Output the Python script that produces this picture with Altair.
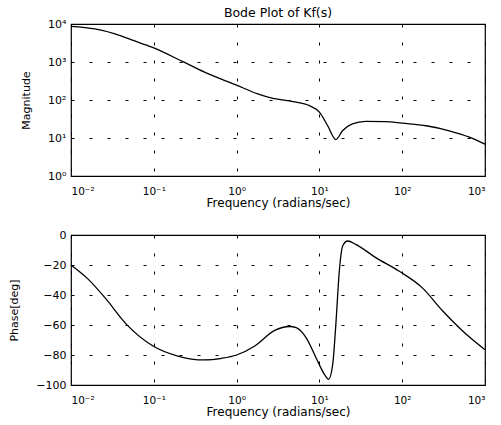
import altair as alt
import pandas as pd

# ---- data ----
mag_freq = [0.01, 0.0195, 0.034, 0.054, 0.095, 0.225, 0.41, 1.0, 1.8, 2.75,
            4.8, 7.6, 10.0, 12.6, 15.8, 19.0, 25.0, 36.0, 63.0, 100.0,
            195.0, 370.0, 650.0, 1000.0]
mag_val = [8700, 7400, 5500, 3800, 2450, 1020, 540, 245, 145, 110,
           91, 71, 48, 21, 9.1, 15.5, 23.4, 27.5, 27.0, 24.5,
           21.0, 15.5, 10.5, 6.9]

phase_freq = [0.01, 0.0162, 0.0257, 0.0468, 0.0977, 0.195, 0.407, 0.66, 1.0,
              1.66, 2.88, 4.37, 5.25, 6.9, 9.1, 11.5, 12.9, 14.5, 15.8, 17.4,
              19.1, 21.9, 27.5, 47.9, 91.2, 174.0, 309.0, 537.0, 1000.0]
phase_val = [-20, -29.6, -41.8, -59.6, -74, -80.7, -83.3, -82.2, -80,
             -74, -63.6, -61, -61.8, -68.4, -81.8, -92.9, -96.2, -86, -59.6, -24,
             -7.3, -4, -6.2, -15.1, -24, -35.1, -50.7, -64, -76.5]

x_ticks = [0.01, 0.1, 1, 10, 100, 1000]
mag_ticks = [1, 10, 100, 1000, 10000]
phase_ticks = [0, -20, -40, -60, -80, -100]

title_text = "Bode Plot of Kf(s)"
x_title = "Frequency (radians/sec)"
mag_title = "Magnitude"
phase_title = "Phase[deg]"

sup = {-2: "⁻²", -1: "⁻¹", 0: "⁰", 1: "¹", 2: "²", 3: "³", 4: "⁴"}


def pow10_expr():
    k = "round(log(datum.value)/LN10)"
    expr = "''"
    for e, s in sup.items():
        expr = f"({k} == {e} ? '{s}' : {expr})"
    return "'10' + " + expr


mag_df = pd.DataFrame({"freq": mag_freq, "mag": mag_val})
phase_df = pd.DataFrame({"freq": phase_freq, "phase": phase_val})

FONT = "DejaVu Sans"
W = 414

x_scale = alt.Scale(type="log", domain=[0.01, 1000], nice=False)

xaxis = alt.Axis(values=x_ticks, labelExpr=pow10_expr(), title=x_title,
                 titleFontSize=12, labelFontSize=10.5, titlePadding=1,
                 labelPadding=10)

top = alt.Chart(mag_df).mark_line(color="black", strokeWidth=1.3,
                                  interpolate="monotone").encode(
    x=alt.X("freq:Q", scale=x_scale, axis=xaxis),
    y=alt.Y("mag:Q",
            scale=alt.Scale(type="log", domain=[1, 10000], nice=False),
            axis=alt.Axis(values=mag_ticks, labelExpr=pow10_expr(),
                          title=mag_title, titleFontSize=11, labelFontSize=11,
                          titlePadding=16, labelPadding=5)),
).properties(
    width=W, height=152,
    title=alt.TitleParams(title_text, fontSize=12.5, fontWeight="normal",
                          font=FONT, anchor="middle", frame="group",
                          offset=-1, color="black"),
)

bottom = alt.Chart(phase_df).mark_line(color="black", strokeWidth=1.3,
                                       interpolate="monotone").encode(
    x=alt.X("freq:Q", scale=x_scale, axis=xaxis),
    y=alt.Y("phase:Q",
            scale=alt.Scale(domain=[-100, 0], nice=False),
            axis=alt.Axis(values=phase_ticks, title=phase_title,
                          titleFontSize=11, labelFontSize=11,
                          titlePadding=16, labelPadding=5)),
).properties(width=W, height=150)

chart = alt.vconcat(top, bottom, spacing=18).properties(
    padding={"left": 8, "top": 5, "right": 5, "bottom": 0},
    background="white",
).configure_view(
    stroke="black", strokeWidth=1.2,
).configure_axis(
    domain=False, ticks=False,
    grid=True, gridColor="black", gridDash=[3, 15], gridWidth=1,
    gridOpacity=1,
    labelFont=FONT, titleFont=FONT, labelColor="black", titleColor="black",
    titleFontWeight="normal",
)

chart.save("out.html", embed_options={"renderer": "svg", "actions": False})
